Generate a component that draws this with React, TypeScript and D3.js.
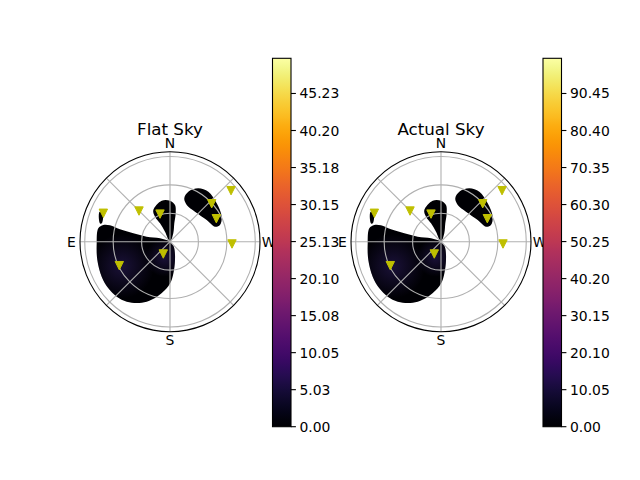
import * as d3 from 'd3';
import React from 'react';

const width = 640;
const height = 480;

// source markers: azimuth (deg, N = 0, E = 90) and zenith angle (deg)
const markerAz = [66.9, 45.3, 19.9, 309.9, 312.3, 296.4, 267.9, 151.4, 115.3];
const markerZen = [76.5, 46, 31, 84, 59.5, 54.6, 65.5, 14.8, 59.2];

// outlines of the filled regions, [azimuth, zenith]
const bigBlob: [number, number][] = [
  [0, 0], [71.2, 11.1], [77.9, 25.2], [77.1, 39.7], [76.1, 54.4], [74.7, 65.7],
  [75.9, 72.6], [79.4, 77.0], [91.3, 77.4], [104.1, 79.1], [117.1, 81.0],
  [127.1, 81.6], [135.9, 80.8], [144.2, 78.1], [151.7, 73.5], [158.8, 67.9],
  [166.7, 59.6], [174.1, 51.3], [181.4, 42.2], [188.0, 30.2], [200.6, 15.0],
  [219.1, 5.9],
];
const tearBlob: [number, number][] = [
  [0, 0], [-21.4, 9.5], [-13.2, 19.9], [-11.3, 30.6], [-7.8, 39.1], [0, 43.3],
  [11.4, 44.2], [27.8, 37.8], [31.0, 30.8], [28.5, 22.1], [26.6, 11.8],
];
const nwBlob: [number, number][] = [
  [339.9, 56.2], [332.1, 63.8], [322.5, 66.5], [309.4, 63.8], [295.8, 60.6],
  [288.5, 55.6], [288.4, 50.1], [300.6, 45.0], [320.2, 41.2], [335.5, 42.6],
  [341.8, 48.2],
];
const sliverBlob: [number, number][] = [
  [67.2, 80.8], [66.3, 77.8], [74.6, 74.4], [75.4, 76.3],
];
// faint brighter spots inside the big region: [azimuth, zenith, spread]
const glows: [number, number, number][] = [
  [117, 57, 34],
  [160, 18, 20],
];

const compass: [string, number][] = [['N', 0], ['E', 90], ['S', 180], ['W', 270]];
const radialGrid = [30, 60, 90];
const angleGrid = [0, 45, 90, 135, 180, 225, 270, 315];
const zenMax = 95;

const flatTicks = [0, 5.025, 10.05, 15.075, 20.1, 25.125, 30.15, 35.175, 40.2, 45.225];
const flatLabels = ['0.00', '5.03', '10.05', '15.08', '20.10', '25.13', '30.15', '35.18', '40.20', '45.23'];
const flatMax = 50;
const actualTicks = [0, 10.05, 20.1, 30.15, 40.2, 50.25, 60.3, 70.35, 80.4, 90.45];
const actualLabels = ['0.00', '10.05', '20.10', '30.15', '40.20', '50.25', '60.30', '70.35', '80.40', '90.45'];
const actualMax = 100;

const font = 'DejaVu Sans, sans-serif';
const radius = 90;
const rScale = d3.scaleLinear().domain([0, zenMax]).range([0, radius]);
const rad = Math.PI / 180;

const SkyPanel = ({ cx, cy, title, id }: { cx: number; cy: number; title: string; id: string }) => {
  const pos = (az: number, zen: number): [number, number] => [
    cx - rScale(zen) * Math.sin(az * rad),
    cy - rScale(zen) * Math.cos(az * rad),
  ];
  const outline = d3.line().curve(d3.curveCatmullRomClosed.alpha(0.5));
  const shape = (pts: [number, number][]) => outline(pts.map(([a, z]) => pos(a, z))) as string;
  const tri = 8.4;

  return (
    <g>
      <defs>
        {glows.map(([a, z, s], i) => {
          const [gx, gy] = pos(a, z);
          return (
            <radialGradient key={i} id={`${id}-glow${i}`} gradientUnits="userSpaceOnUse" cx={gx} cy={gy} r={rScale(s)}>
              <stop offset="0%" stopColor="#1a1138" stopOpacity={1} />
              <stop offset="100%" stopColor="#1a1138" stopOpacity={0} />
            </radialGradient>
          );
        })}
        <clipPath id={`${id}-big`}>
          <path d={shape(bigBlob)} />
        </clipPath>
      </defs>
      {[bigBlob, tearBlob, nwBlob, sliverBlob].map((b, i) => (
        <path key={i} d={shape(b)} fill="#000004" />
      ))}
      <g clipPath={`url(#${id}-big)`}>
        {glows.map(([a, z, s], i) => {
          const [gx, gy] = pos(a, z);
          return <circle key={i} cx={gx} cy={gy} r={rScale(s)} fill={`url(#${id}-glow${i})`} />;
        })}
      </g>
      {radialGrid.map((z) => (
        <circle key={z} cx={cx} cy={cy} r={rScale(z)} fill="none" stroke="#b0b0b0" strokeWidth={1.1} />
      ))}
      {angleGrid.map((a) => {
        const [x2, y2] = pos(a, zenMax);
        return <line key={a} x1={cx} y1={cy} x2={x2} y2={y2} stroke="#b0b0b0" strokeWidth={1.1} />;
      })}
      <circle cx={cx} cy={cy} r={radius} fill="none" stroke="#000" strokeWidth={1.1} />
      {markerAz.map((a, i) => {
        const [mx, my] = pos(a, markerZen[i]);
        const h = tri / 2;
        return (
          <path
            key={i}
            d={`M${mx - h},${my - h}L${mx + h},${my - h}L${mx},${my + h}Z`}
            fill="#bfbf00"
            stroke="#bfbf00"
            strokeWidth={1}
          />
        );
      })}
      {compass.map(([t, a]) => {
        const lx = cx - (radius + 8.5) * Math.sin(a * rad);
        const ly = cy - (radius + 8.5) * Math.cos(a * rad);
        return (
          <text key={t} x={lx} y={ly} textAnchor="middle" dominantBaseline="central" fontSize={13.9} fontFamily={font}>
            {t}
          </text>
        );
      })}
      <text x={cx} y={134.6} textAnchor="middle" fontSize={16.7} fontFamily={font}>
        {title}
      </text>
    </g>
  );
};

const Colorbar = ({ x, max, ticks, labels, id }: { x: number; max: number; ticks: number[]; labels: string[]; id: string }) => {
  const top = 58.3;
  const bottom = 426.7;
  const w = 18.5;
  const y = d3.scaleLinear().domain([0, max]).range([bottom, top]);
  const stops = d3.range(0, 1.0001, 0.02);
  return (
    <g>
      <defs>
        <linearGradient id={id} x1="0" y1="1" x2="0" y2="0">
          {stops.map((s) => (
            <stop key={s} offset={`${s * 100}%`} stopColor={d3.interpolateInferno(s)} />
          ))}
        </linearGradient>
      </defs>
      <rect x={x} y={top} width={w} height={bottom - top} fill={`url(#${id})`} stroke="#000" strokeWidth={1.1} />
      {ticks.map((t, i) => (
        <g key={t}>
          <line x1={x + w} x2={x + w + 4.9} y1={y(t)} y2={y(t)} stroke="#000" strokeWidth={1.1} />
          <text x={x + w + 8.5} y={y(t)} dominantBaseline="central" fontSize={13.9} fontFamily={font}>
            {labels[i]}
          </text>
        </g>
      ))}
    </g>
  );
};

export default function App() {
  return (
    <svg width={width} height={height} style={{ position: 'absolute', left: 0, top: 0, background: '#fff' }}>
      <SkyPanel cx={170} cy={241.7} title="Flat Sky" id="flat" />
      <Colorbar x={272.5} max={flatMax} ticks={flatTicks} labels={flatLabels} id="cbFlat" />
      <SkyPanel cx={441} cy={241.7} title="Actual Sky" id="actual" />
      <Colorbar x={543} max={actualMax} ticks={actualTicks} labels={actualLabels} id="cbActual" />
    </svg>
  );
}
